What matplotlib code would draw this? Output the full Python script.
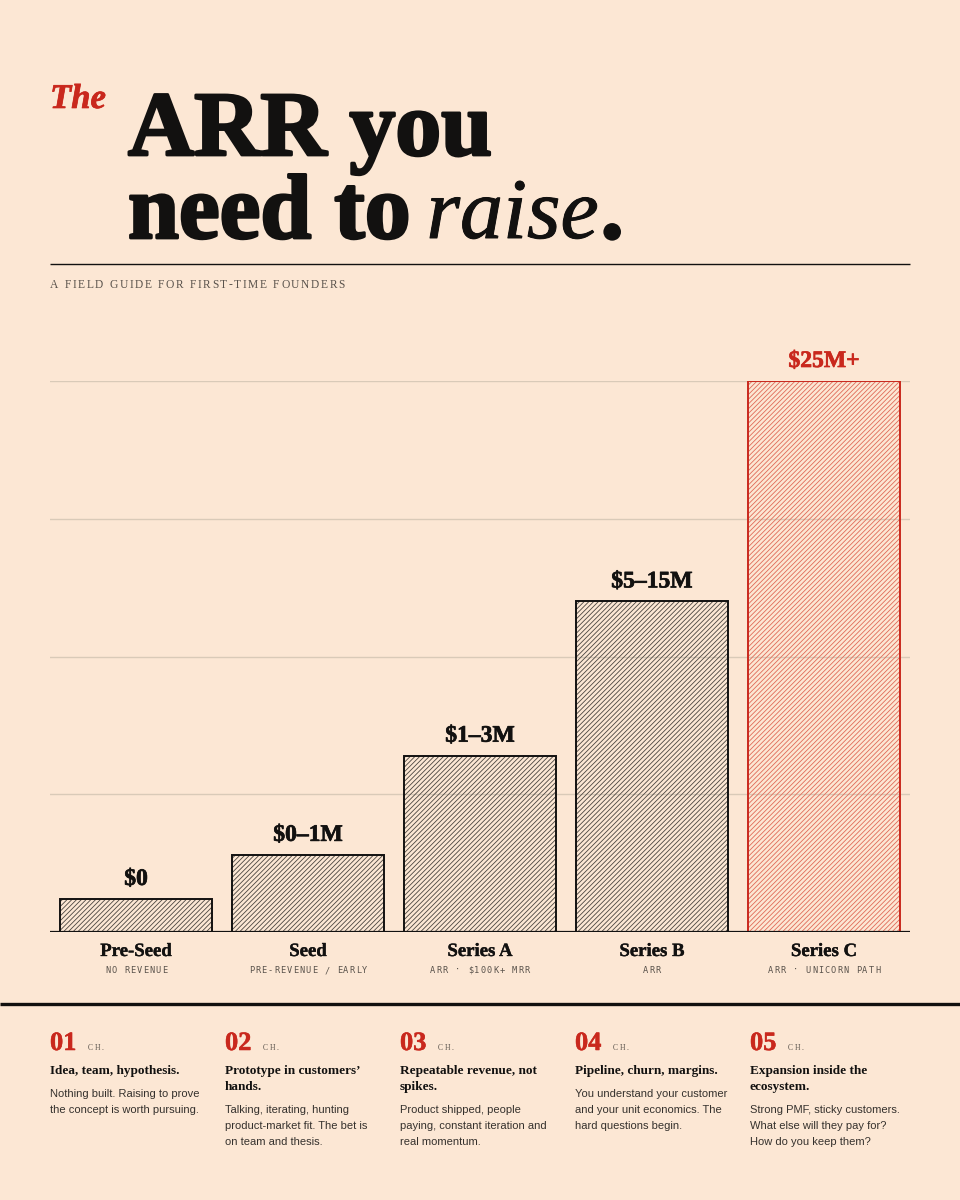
import matplotlib
matplotlib.use("Agg")
import matplotlib.pyplot as plt
import matplotlib.patheffects as pe
from matplotlib.lines import Line2D
from matplotlib.font_manager import FontProperties, findfont
from matplotlib.ft2font import FT2Font


W, H, DPI = 960, 1200, 100
BG = '#fce7d4'
INK = '#121110'
RED = '#c9281d'
GRAY = '#5a534c'

# chart data (bar heights read as % of the Series C bar)
stages = ['Pre-Seed', 'Seed', 'Series A', 'Series B', 'Series C']
heights = [6, 14, 32, 60, 100]
value_labels = ['$0', '$0\u20131M', '$1\u20133M', '$5\u201315M', '$25M+']
sub_labels = ['NO REVENUE', 'PRE-REVENUE / EARLY', 'ARR \u00b7 $100K+ MRR',
              'ARR', 'ARR \u00b7 UNICORN PATH']
grid_ticks = [25, 50, 75, 100]

chapter_nums = ['01', '02', '03', '04', '05']
chapter_heads = [
    'Idea, team, hypothesis.',
    'Prototype in customers\u2019\nhands.',
    'Repeatable revenue, not\nspikes.',
    'Pipeline, churn, margins.',
    'Expansion inside the\necosystem.',
]
chapter_body = [
    'Nothing built. Raising to prove\nthe concept is worth pursuing.',
    'Talking, iterating, hunting\nproduct-market fit. The bet is\non team and thesis.',
    'Product shipped, people\npaying, constant iteration and\nreal momentum.',
    'You understand your customer\nand your unit economics. The\nhard questions begin.',
    'Strong PMF, sticky customers.\nWhat else will they pay for?\nHow do you keep them?',
]

SERIF = 'Liberation Serif'
SANS = 'Liberation Sans'
MONO = 'DejaVu Sans Mono'

plt.rcParams['hatch.linewidth'] = 0.6

fig = plt.figure(figsize=(W / DPI, H / DPI), dpi=DPI, facecolor=BG)


def fx(x):
    return x / W


def fy(y):
    return 1 - y / H


def heavy(w, color=INK):
    # fake a heavier weight than Liberation Serif Bold has
    return [pe.withStroke(linewidth=w, foreground=color)]


def advances(s, prop):
    font = FT2Font(findfont(prop))
    font.set_size(prop.get_size_in_points(), DPI)
    return [font.load_char(ord(c)).linearHoriAdvance / 65536 for c in s]


def text_width(s, prop):
    return sum(advances(s, prop))


def spaced(x, y, s, prop, color, track=0.0, ha='left'):
    adv = [a + track for a in advances(s, prop)]
    total = sum(adv) - track
    if ha == 'center':
        x = x - total / 2
    for c, a in zip(s, adv):
        if c != ' ':
            fig.text(fx(x), fy(y), c, fontproperties=prop, color=color,
                     ha='left', va='baseline')
        x += a


def hline(x0, x1, y, lw, color):
    fig.add_artist(Line2D([fx(x0), fx(x1)], [fy(y), fy(y)],
                          transform=fig.transFigure, lw=lw, color=color,
                          solid_capstyle='butt'))


# ---- title ----
p_the = FontProperties(family=SERIF, weight='bold', style='italic', size=25)
fig.text(fx(50), fy(108), 'The', fontproperties=p_the, color=RED, va='baseline',
         path_effects=heavy(0.5, RED))

p_big = FontProperties(family=SERIF, weight='bold', size=66)
p_big_it = FontProperties(family=SERIF, style='italic', size=62)
fig.text(fx(128), fy(155), 'ARR you', fontproperties=p_big, color=INK, va='baseline',
         path_effects=heavy(2.0))
x = 128
fig.text(fx(x), fy(238), 'need to', fontproperties=p_big, color=INK, va='baseline',
         path_effects=heavy(2.0))
x += text_width('need to', p_big) + 16
fig.text(fx(x), fy(238), 'raise', fontproperties=p_big_it, color=INK, va='baseline',
         path_effects=heavy(0.7))
x += text_width('raise', p_big_it) + 2
fig.text(fx(x), fy(238), '.', fontproperties=p_big, color=INK, va='baseline',
         path_effects=heavy(2.0))

hline(50, 910, 264, 1.0, INK)
p_sub = FontProperties(family=SERIF, size=8.3)
spaced(50, 288, 'A FIELD GUIDE FOR FIRST-TIME FOUNDERS', p_sub, GRAY, track=1.6)

# ---- chart ----
ax = fig.add_axes([fx(50), fy(932), fx(860), (932 - 381) / H])
ax.set_facecolor('none')
ax.set_xlim(-0.5, len(stages) - 0.5)
ax.set_ylim(0, 100)
for s in ax.spines.values():
    s.set_visible(False)
ax.set_xticks([])
ax.set_yticks([])
for t in grid_ticks:
    ax.axhline(t, color='#d9cab8', lw=1.0, zorder=0)
ax.axhline(0, color=INK, lw=1.6, zorder=5)

for i, (stage, h) in enumerate(zip(stages, heights)):
    last = i == len(stages) - 1
    edge = RED if last else INK
    hatch_col = '#e06a58' if last else '#4a4540'
    ax.bar(i, h, width=0.878, facecolor='none', edgecolor=hatch_col,
           hatch='///////', lw=0, zorder=2)
    ax.bar(i, h, width=0.878, facecolor='none', edgecolor=edge, lw=1.4, zorder=3)
    ax.annotate(value_labels[i], (i, h), xytext=(0, 14), textcoords='offset pixels',
                ha='center', va='baseline', fontfamily=SERIF, fontweight='bold',
                fontsize=17, color=edge, annotation_clip=False,
                path_effects=heavy(0.5, edge))
    ax.annotate(stage, (i, 0), xytext=(0, -24), textcoords='offset pixels',
                ha='center', va='baseline', fontfamily=SERIF, fontweight='bold',
                fontsize=13.5, color=INK, annotation_clip=False,
                path_effects=heavy(0.25))

fig.canvas.draw()
p_mono = FontProperties(family=MONO, size=6.2)
for i, lab in enumerate(sub_labels):
    cx, _ = ax.transData.transform((i, 0))
    spaced(cx, 973, lab, p_mono, GRAY, track=1.1, ha='center')

# ---- chapters ----
hline(0, 960, 1004, 2.4, INK)
p_num = FontProperties(family=SERIF, weight='bold', size=19)
p_ch = FontProperties(family=SERIF, size=5.5)
p_head = FontProperties(family=SERIF, weight='bold', size=9.5)
p_body = FontProperties(family=SANS, size=8)
for k in range(len(chapter_nums)):
    cx = 50 + 175 * k
    fig.text(fx(cx), fy(1050), chapter_nums[k], fontproperties=p_num, color=RED,
             va='baseline', path_effects=heavy(0.4, RED))
    spaced(cx + 38, 1050, 'CH.', p_ch, GRAY, track=1.5)
    head_lines = chapter_heads[k].split('\n')
    y = 1074
    for j, line in enumerate(head_lines):
        fig.text(fx(cx), fy(y + 16 * j), line, fontproperties=p_head, color=INK,
                 va='baseline')
    y = 1074 + 16 * (len(head_lines) - 1) + 23
    for j, line in enumerate(chapter_body[k].split('\n')):
        fig.text(fx(cx), fy(y + 16 * j), line, fontproperties=p_body, color='#35312d',
                 va='baseline')

fig.savefig('out.png', dpi=DPI, facecolor=BG)
